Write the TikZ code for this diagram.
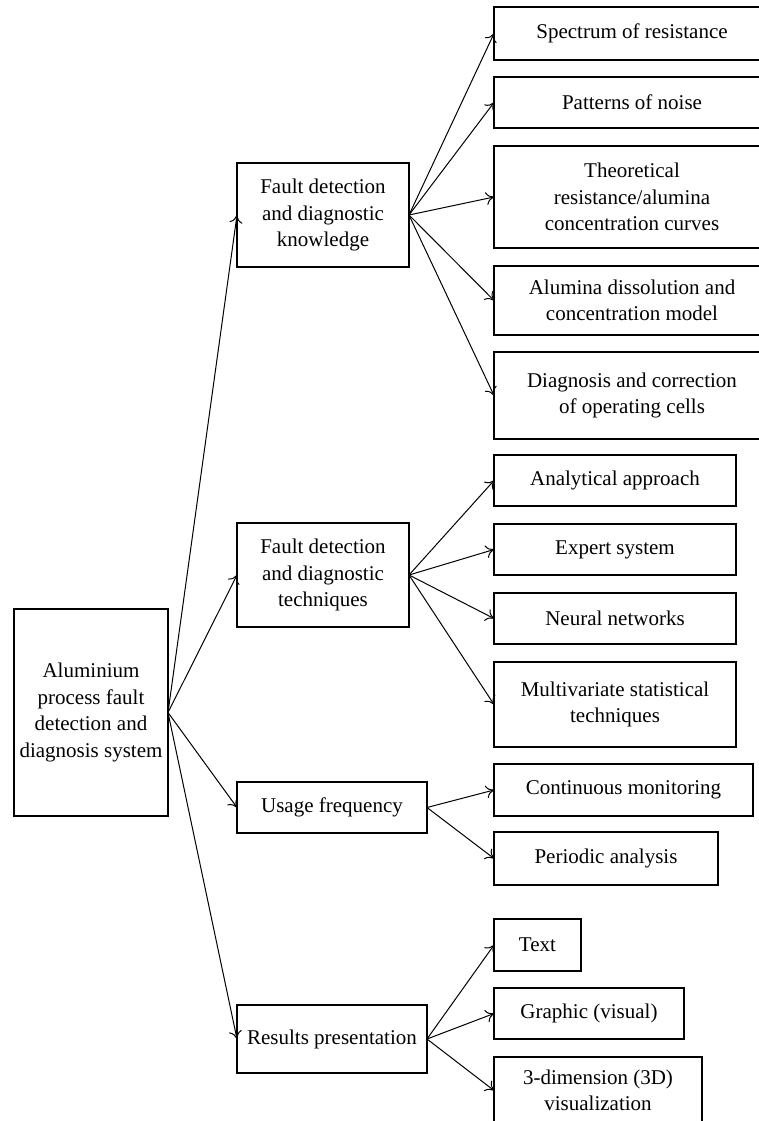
\documentclass[tikz,border=0pt]{standalone}
\usepackage{fontspec}
\setmainfont{Liberation Serif}
\usetikzlibrary{arrows.meta}
\begin{document}
\begin{tikzpicture}[x=1pt,y=-1pt,
    box/.style={draw,line width=1.1pt,align=center,inner sep=0pt,outer sep=0pt,
      font=\fontsize{21}{26.5}\selectfont},
    link/.style={line width=1pt,-{To[length=8pt,width=13pt]}}]
  \useasboundingbox (0,0) rectangle (759,1121);
  % root and main branches
  \node[box,minimum width=154,minimum height=207] (sys) at (91,712.5)
    {Aluminium\\process fault\\detection and\\diagnosis system};
  \node[box,minimum width=172,minimum height=104] (know) at (323,215)
    {Fault detection\\and diagnostic\\knowledge};
  \node[box,minimum width=172,minimum height=104] (tech) at (323,575)
    {Fault detection\\and diagnostic\\techniques};
  \node[box,minimum width=190,minimum height=51] (freq) at (332,807.5) {Usage frequency};
  \node[box,minimum width=190,minimum height=68] (pres) at (332,1039) {Results presentation};
  % knowledge
  \node[box,minimum width=276,minimum height=53] (spec) at (632,33.5) {Spectrum of resistance};
  \node[box,minimum width=276,minimum height=51] (noise) at (632,102.5) {Patterns of noise};
  \node[box,minimum width=276,minimum height=102] (curv) at (632,197)
    {Theoretical\\resistance/alumina\\concentration curves};
  \node[box,minimum width=276,minimum height=69] (model) at (632,300.5)
    {Alumina dissolution and\\concentration model};
  \node[box,minimum width=276,minimum height=87] (cells) at (632,395.5)
    {Diagnosis and correction\\of operating cells};
  % techniques
  \node[box,minimum width=242,minimum height=51] (anal) at (615,480.5) {Analytical approach};
  \node[box,minimum width=242,minimum height=51] (expert) at (615,549.5) {Expert system};
  \node[box,minimum width=242,minimum height=51] (neural) at (615,618.5) {Neural networks};
  \node[box,minimum width=242,minimum height=85] (multi) at (615,704.5)
    {Multivariate statistical\\techniques};
  % usage
  \node[box,minimum width=259,minimum height=52] (cont) at (623.5,790) {Continuous monitoring};
  \node[box,minimum width=224,minimum height=53] (period) at (606,858.5) {Periodic analysis};
  % presentation
  \node[box,minimum width=87,minimum height=52] (txt) at (537.5,945) {Text};
  \node[box,minimum width=190,minimum height=51] (graph) at (589,1013.5) {Graphic (visual)};
  \node[box,minimum width=208,minimum height=67] (threed) at (598,1090.5)
    {3-dimension (3D)\\visualization};
  % arrows
  \foreach \b in {know,tech,freq,pres}
    \draw[link] (sys.east) -- (\b.west);
  \foreach \b in {spec,noise,curv,model,cells}
    \draw[link] (know.east) -- (\b.west);
  \foreach \b in {anal,expert,neural,multi}
    \draw[link] (tech.east) -- (\b.west);
  \foreach \b in {cont,period}
    \draw[link] (freq.east) -- (\b.west);
  \foreach \b in {txt,graph,threed}
    \draw[link] (pres.east) -- (\b.west);
\end{tikzpicture}
\end{document}
